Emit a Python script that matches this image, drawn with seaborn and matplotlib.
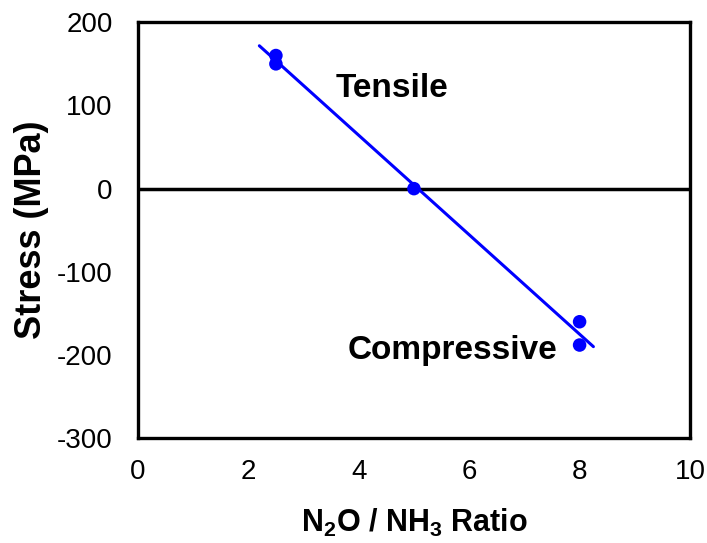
import numpy as np
import matplotlib
matplotlib.use("Agg")
import matplotlib.pyplot as plt
import seaborn as sns

# measured data points
ratio = [2.5, 2.5, 5.0, 8.0, 8.0]
stress = [160, 150, 0, -160, -188]
# extent of the fitted line
fit_x = [2.2, 8.25]
x_ticks = [0, 2, 4, 6, 8, 10]
y_ticks = [-300, -200, -100, 0, 100, 200]

sns.set_theme(style="white")
plt.rcParams['font.family'] = ['Liberation Sans', 'DejaVu Sans']
plt.rcParams['text.color'] = 'black'
plt.rcParams['axes.labelcolor'] = 'black'
plt.rcParams['mathtext.fontset'] = 'custom'
plt.rcParams['mathtext.rm'] = 'Liberation Sans'
plt.rcParams['mathtext.bf'] = 'Liberation Sans:bold'

fig = plt.figure(figsize=(7.07, 5.43), dpi=100)
ax = fig.add_axes([0.195, 0.193, 0.781, 0.766])

# least-squares line through the points
slope, intercept = np.polyfit(ratio, stress, 1)
fx = np.array(fit_x)
sns.lineplot(x=fx, y=slope * fx + intercept, ax=ax, color="#0000ff", lw=2.2)
ax.axhline(0, color="black", lw=2.5, zorder=1)
sns.scatterplot(x=ratio, y=stress, ax=ax, color="#0000ff", s=95,
                edgecolor="none", zorder=3)

ax.set_xlim(0, 10)
ax.set_ylim(-300, 200)
ax.set_xticks(x_ticks)
ax.set_yticks(y_ticks)
ax.set_xticklabels([str(t) for t in x_ticks], fontsize=20)
ax.set_yticklabels([str(t) for t in y_ticks], fontsize=20)
ax.tick_params(direction="in", length=7, width=2, colors="black")
ax.tick_params(axis="x", pad=15)
ax.tick_params(axis="y", pad=18)
for sp in ax.spines.values():
    sp.set_linewidth(2.4)
    sp.set_color("black")

ax.set_xlabel(r"N$_\mathbf{2}$O / NH$_\mathbf{3}$ Ratio", fontsize=22,
              fontweight="bold", labelpad=16)
ax.set_ylabel("Stress (MPa)", fontsize=26, fontweight="bold", labelpad=6)

ax.text(4.6, 120, "Tensile", fontsize=24, fontweight="bold",
        ha="center", va="center")
ax.text(5.7, -195, "Compressive", fontsize=24, fontweight="bold",
        ha="center", va="center")

fig.savefig("out.png", dpi=100)
